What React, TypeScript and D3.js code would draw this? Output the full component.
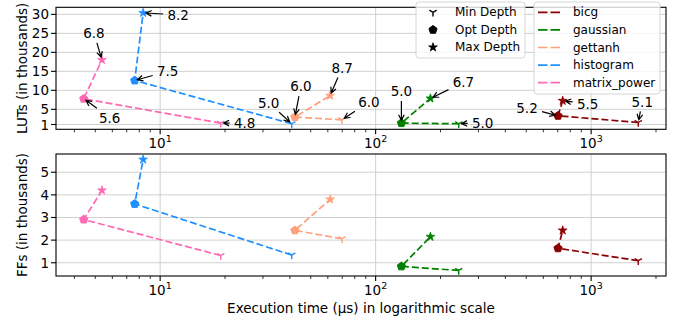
import React, { useEffect, useRef } from "react"
import * as d3 from "d3"

const W = 678
const H = 322

const benchmarks = ["bicg", "gaussian", "gettanh", "histogram", "matrix_power"]
const colors = ["#8b0000", "#008000", "#ffa07a", "#1e90ff", "#ff69b4"]
const depthNames = ["Min Depth", "Opt Depth", "Max Depth"]

// every row is [min, opt, max]
const execTime = [
  [1655, 702, 738],
  [243, 131.7, 179.6],
  [69.8, 42.2, 61.5],
  [40.8, 7.62, 8.34],
  [19.1, 4.42, 5.37],
]
const luts = [
  [1.53, 3.3, 7.26],
  [1.2, 1.37, 7.87],
  [2.24, 2.96, 8.6],
  [1.2, 12.6, 30.4],
  [1.37, 7.8, 18.0],
]
const ffs = [
  [1.09, 1.64, 2.43],
  [0.66, 0.84, 2.15],
  [2.06, 2.43, 3.8],
  [1.34, 3.6, 5.56],
  [1.32, 2.91, 4.2],
]
const depthLabels = [
  ["5.1", "5.2", "5.5"],
  ["5.0", "5.0", "6.7"],
  ["6.0", "6.0", "8.7"],
  ["5.0", "7.5", "8.2"],
  ["4.8", "5.6", "6.8"],
]
const lutTicks = [1, 5, 10, 15, 20, 25, 30]
const ffTicks = [1, 2, 3, 4, 5]
const xTicks = [10, 100, 1000]

// where the annotation text sits, px from the point
const labelOffsets = [
  [[4, -21], [-31, -8], [25, 3]],
  [[24, -1], [0, -32], [33, -16]],
  [[27, -18], [6, -31], [12, -28]],
  [[-23, -21], [33, -9], [35, 2]],
  [[24, 0], [26, 19], [-8, -27]],
]

const FONT = "DejaVu Sans, sans-serif"
const left = 56, right = 666
const panels = [
  { top: 7.3, bottom: 129.3, data: luts, ticks: lutTicks, label: "LUTs (in thousands)", annotate: true },
  { top: 154, bottom: 276, data: ffs, ticks: ffTicks, label: "FFs (in thousands)", annotate: false },
]

function padded(vals: number[], log = false) {
  const v = log ? vals.map(Math.log10) : vals
  const lo = d3.min(v)!, hi = d3.max(v)!
  const p = (hi - lo) * 0.05
  return log ? [10 ** (lo - p), 10 ** (hi + p)] : [lo - p, hi + p]
}

function marker(sel: any, kind: number, x: number, y: number, color: string) {
  if (kind === 0) {
    const r = 4.2
    sel.append("path")
      .attr("d", `M${x},${y}L${x},${y + r}M${x},${y}L${x - r * 0.866},${y - r * 0.5}M${x},${y}L${x + r * 0.866},${y - r * 0.5}`)
      .attr("stroke", color).attr("stroke-width", 1.4).attr("fill", "none")
  } else if (kind === 1) {
    const r = 4.3
    const pts = d3.range(5).map(i => {
      const a = -Math.PI / 2 + i * 2 * Math.PI / 5
      return [x + r * Math.cos(a), y + r * Math.sin(a)]
    })
    sel.append("path").attr("d", "M" + pts.join("L") + "Z").attr("fill", color).attr("stroke", color).attr("stroke-width", 1)
  } else {
    const r = 4.6, ri = r * 0.382
    const pts = d3.range(10).map(i => {
      const a = -Math.PI / 2 + i * Math.PI / 5
      const rr = i % 2 ? ri : r
      return [x + rr * Math.cos(a), y + rr * Math.sin(a)]
    })
    sel.append("path").attr("d", "M" + pts.join("L") + "Z").attr("fill", color).attr("stroke", color).attr("stroke-width", 0.8)
  }
}

export default function App() {
  const ref = useRef<SVGSVGElement>(null)

  useEffect(() => {
    const svg = d3.select(ref.current)
    svg.selectAll("*").remove()

    const x = d3.scaleLog().domain(padded(execTime.flat(), true)).range([left, right])
    const minor: number[] = []
    ;[1, 10, 100, 1000].forEach(d => d3.range(2, 10).forEach(k => minor.push(d * k)))
    const minorIn = minor.filter(v => v >= x.domain()[0] && v <= x.domain()[1])

    panels.forEach(pn => {
      const y = d3.scaleLinear().domain(padded(pn.data.flat())).range([pn.bottom, pn.top])
      const g = svg.append("g")

      // grid
      g.selectAll(".gy").data(pn.ticks).enter().append("line")
        .attr("x1", left).attr("x2", right).attr("y1", d => y(d)).attr("y2", d => y(d))
        .attr("stroke", "#d0d0d0").attr("stroke-width", 1)
      g.selectAll(".gx").data(xTicks).enter().append("line")
        .attr("x1", d => x(d)).attr("x2", d => x(d)).attr("y1", pn.top).attr("y2", pn.bottom)
        .attr("stroke", "#d0d0d0").attr("stroke-width", 1)

      // series
      pn.data.forEach((row, s) => {
        const pts = row.map((v, i) => [x(execTime[s][i]), y(v)] as [number, number])
        g.append("path").attr("d", d3.line()(pts))
          .attr("fill", "none").attr("stroke", colors[s]).attr("stroke-width", 1.7)
          .attr("stroke-dasharray", "7,3")
      })
      pn.data.forEach((row, s) => {
        row.forEach((v, i) => marker(g, i, x(execTime[s][i]), y(v), colors[s]))
      })

      // annotations
      if (pn.annotate) {
        pn.data.forEach((row, s) => {
          row.forEach((v, i) => {
            const px = x(execTime[s][i]), py = y(v)
            const cx = px + labelOffsets[s][i][0], cy = py + labelOffsets[s][i][1]
            const t = g.append("text").attr("x", cx).attr("y", cy)
              .attr("text-anchor", "middle").attr("dominant-baseline", "central")
              .attr("font-family", FONT).attr("font-size", 13.5).attr("fill", "#000")
              .text(depthLabels[s][i])
            const bb = (t.node() as SVGTextElement).getBBox()
            const hw = bb.width / 2 + 2.8, hh = bb.height / 2 + 0.5
            const dx = px - cx, dy = py - cy
            const len = Math.hypot(dx, dy)
            const ux = dx / len, uy = dy / len
            const tt = Math.min(Math.abs(dx) > 1e-6 ? hw / Math.abs(dx) : 1e9, Math.abs(dy) > 1e-6 ? hh / Math.abs(dy) : 1e9)
            const sx = cx + dx * tt + ux * 1.5, sy = cy + dy * tt + uy * 1.5
            const ex = px - ux * 2.8, ey = py - uy * 2.8
            const hl = 5.6, hwid = 2.8
            const nx = -uy, ny = ux
            g.append("path")
              .attr("d", `M${sx},${sy}L${ex},${ey}M${ex - ux * hl + nx * hwid},${ey - uy * hl + ny * hwid}L${ex},${ey}L${ex - ux * hl - nx * hwid},${ey - uy * hl - ny * hwid}`)
              .attr("fill", "none").attr("stroke", "#000").attr("stroke-width", 1.2)
          })
        })
      }

      // frame
      g.append("rect").attr("x", left).attr("y", pn.top).attr("width", right - left).attr("height", pn.bottom - pn.top)
        .attr("fill", "none").attr("stroke", "#000").attr("stroke-width", 1.1)

      // x ticks
      g.selectAll(".xt").data(xTicks).enter().append("line")
        .attr("x1", d => x(d)).attr("x2", d => x(d)).attr("y1", pn.bottom).attr("y2", pn.bottom + 5)
        .attr("stroke", "#000").attr("stroke-width", 1.1)
      g.selectAll(".xm").data(minorIn).enter().append("line")
        .attr("x1", d => x(d)).attr("x2", d => x(d)).attr("y1", pn.bottom).attr("y2", pn.bottom + 3)
        .attr("stroke", "#000").attr("stroke-width", 0.8)
      const xl = g.selectAll(".xl").data(xTicks).enter().append("text")
        .attr("x", d => x(d)).attr("y", pn.bottom + 19)
        .attr("text-anchor", "middle").attr("font-family", FONT).attr("font-size", 13.5).attr("fill", "#000")
      xl.append("tspan").text("10")
      xl.append("tspan").attr("dy", -6).attr("font-size", 9.5).text(d => String(Math.round(Math.log10(d))))

      // y ticks
      g.selectAll(".yt").data(pn.ticks).enter().append("line")
        .attr("x1", left - 5).attr("x2", left).attr("y1", d => y(d)).attr("y2", d => y(d))
        .attr("stroke", "#000").attr("stroke-width", 1.1)
      g.selectAll(".yl").data(pn.ticks).enter().append("text")
        .attr("x", left - 7).attr("y", d => y(d)).attr("text-anchor", "end").attr("dominant-baseline", "central")
        .attr("font-family", FONT).attr("font-size", 13.5).attr("fill", "#000").text(d => String(d))

      g.append("text")
        .attr("transform", `translate(22,${(pn.top + pn.bottom) / 2}) rotate(-90)`)
        .attr("text-anchor", "middle").attr("dominant-baseline", "central")
        .attr("font-family", FONT).attr("font-size", 13.5).attr("fill", "#000").text(pn.label)
    })

    svg.append("text").attr("x", (left + right) / 2).attr("y", 308)
      .attr("text-anchor", "middle").attr("dominant-baseline", "central")
      .attr("font-family", FONT).attr("font-size", 13.5).attr("fill", "#000")
      .text("Execution time (\u00b5s) in logarithmic scale")

    // legend: markers
    const lg1 = svg.append("g")
    lg1.append("rect").attr("x", 416).attr("y", 2).attr("width", 109).attr("height", 56).attr("rx", 3)
      .attr("fill", "#fff").attr("fill-opacity", 0.8).attr("stroke", "#d6d6d6")
    depthNames.forEach((n, i) => {
      const yy = 12.3 + i * 17.5
      marker(lg1, i, 433, yy, "#000")
      lg1.append("text").attr("x", 455).attr("y", yy).attr("dominant-baseline", "central")
        .attr("font-family", FONT).attr("font-size", 12).attr("fill", "#000").text(n)
    })

    // legend: benchmarks
    const lg2 = svg.append("g")
    lg2.append("rect").attr("x", 534).attr("y", 2).attr("width", 126).attr("height", 92).attr("rx", 3)
      .attr("fill", "#fff").attr("fill-opacity", 0.8).attr("stroke", "#d6d6d6")
    benchmarks.forEach((n, i) => {
      const yy = 12.3 + i * 17.6
      lg2.append("line").attr("x1", 538).attr("x2", 561).attr("y1", yy).attr("y2", yy)
        .attr("stroke", colors[i]).attr("stroke-width", 1.7).attr("stroke-dasharray", "9.5,3")
      lg2.append("text").attr("x", 573).attr("y", yy).attr("dominant-baseline", "central")
        .attr("font-family", FONT).attr("font-size", 12).attr("fill", "#000").text(n)
    })
  }, [])

  return <svg ref={ref} width={W} height={H} style={{ position: "absolute", left: 0, top: 0 }} />
}
